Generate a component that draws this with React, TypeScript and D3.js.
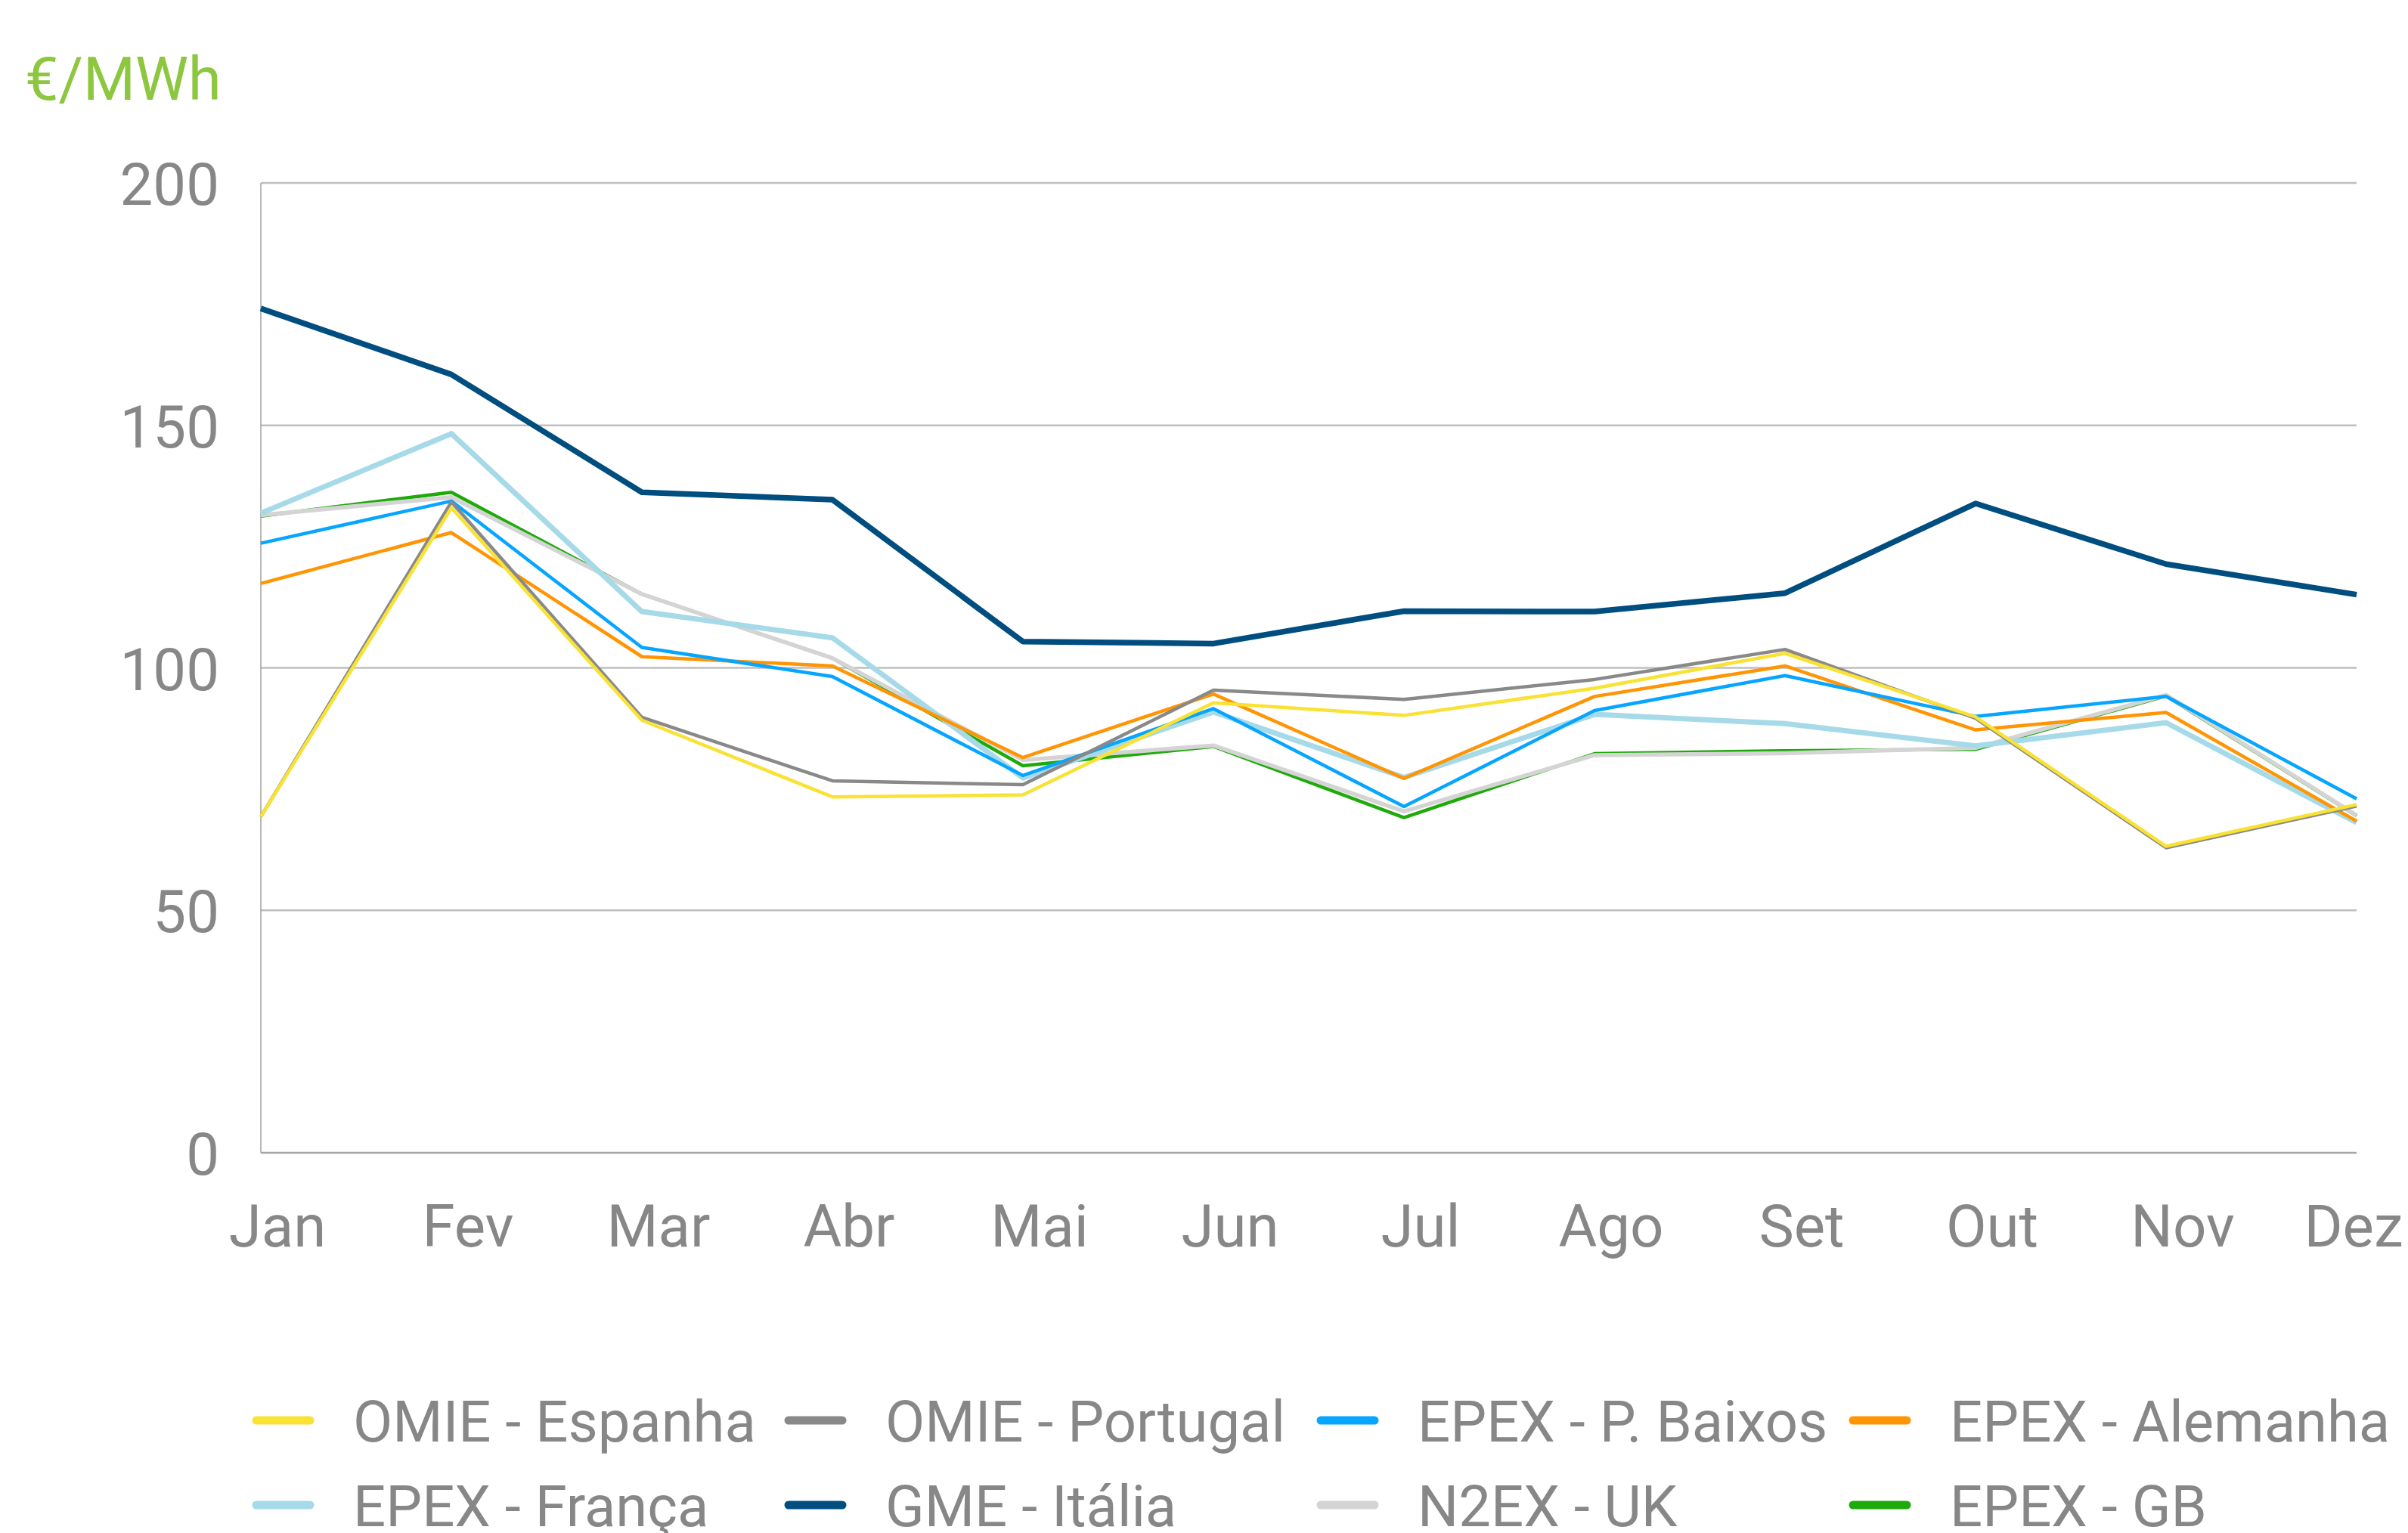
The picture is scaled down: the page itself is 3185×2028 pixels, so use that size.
import React from "react";
import * as d3 from "d3";

const months = ["Jan", "Fev", "Mar", "Abr", "Mai", "Jun", "Jul", "Ago", "Set", "Out", "Nov", "Dez"];

const omieEspanha = [69.3, 133.0, 89.2, 73.4, 73.8, 92.8, 90.2, 95.8, 103.0, 89.9, 63.2, 71.8];
const omiePortugal = [69.3, 134.2, 89.8, 76.7, 75.9, 95.4, 93.5, 97.6, 103.8, 89.6, 62.9, 71.5];
const epexBaixos = [125.7, 134.4, 104.2, 98.2, 77.8, 91.6, 71.4, 91.2, 98.4, 90.0, 94.1, 73.0];
const epexAlemanha = [117.4, 127.9, 102.3, 100.4, 81.5, 94.6, 77.2, 94.1, 100.4, 87.2, 90.8, 68.4];
const epexFranca = [131.9, 148.3, 111.6, 106.2, 77.3, 90.9, 77.4, 90.4, 88.5, 83.9, 88.7, 68.1];
const gmeItalia = [174.1, 160.5, 136.2, 134.7, 105.4, 105.0, 111.7, 111.6, 115.4, 133.9, 121.4, 115.1];
const n2exUk = [131.5, 135.2, 115.2, 102.0, 81.0, 84.0, 70.4, 82.0, 82.4, 83.5, 94.4, 69.6];
const epexGb = [131.3, 136.2, 115.2, 102.0, 79.8, 83.8, 69.1, 82.3, 82.9, 83.2, 94.2, 69.5];

const yTicks = [0, 50, 100, 150, 200];

// legend order (rows of four)
const series = [
  { name: "OMIE - Espanha", values: omieEspanha, color: "#F9E234", width: 4.5 },
  { name: "OMIE - Portugal", values: omiePortugal, color: "#898989", width: 4.5 },
  { name: "EPEX - P. Baixos", values: epexBaixos, color: "#06A5FF", width: 4.5 },
  { name: "EPEX - Alemanha", values: epexAlemanha, color: "#FF9505", width: 4.5 },
  { name: "EPEX - França", values: epexFranca, color: "#A6DAE8", width: 7 },
  { name: "GME - Itália", values: gmeItalia, color: "#004E80", width: 7.5 },
  { name: "N2EX - UK", values: n2exUk, color: "#D4D4D4", width: 5.5 },
  { name: "EPEX - GB", values: epexGb, color: "#1FAA0B", width: 4.5 },
];

const W = 3185;
const H = 2028;
const left = 345;
const right = 3117;
const top = 242;
const bottom = 1525;
const textColor = "#878787";
const font = "Roboto, 'Open Sans', sans-serif";

export default function App() {
  const x = d3.scalePoint<string>().domain(months).range([left, right]);
  const y = d3.scaleLinear().domain([0, 200]).range([bottom, top]);

  const line = d3
    .line<number>()
    .x((_, i) => x(months[i]) as number)
    .y((d) => y(d));

  // later series drawn first, first series ends up on top
  const drawOrder = [...series].reverse();

  return (
    <svg width={W} height={H} style={{ position: "absolute", left: 0, top: 0, background: "#fff" }}>
      <text x={33} y={132} fontFamily={font} fontSize={79} fill="#8DC63F">
        €/MWh
      </text>

      {yTicks.filter((t) => t > 0).map((t) => (
        <line key={t} x1={left} x2={right} y1={y(t)} y2={y(t)} stroke="#BFBFBF" strokeWidth={2.5} />
      ))}
      <line x1={left} x2={left} y1={top} y2={bottom} stroke="#A0A0A0" strokeWidth={1.5} />
      <line x1={left} x2={right} y1={bottom} y2={bottom} stroke="#A6A6A6" strokeWidth={2.5} />

      {yTicks.map((t) => (
        <text key={t} x={290} y={y(t) + 29} textAnchor="end" fontFamily={font} fontSize={78} fill={textColor}>
          {t}
        </text>
      ))}

      {months.map((m) => (
        <text
          key={m}
          x={Math.min((x(m) as number) + 22, 3113)}
          y={1649}
          textAnchor="middle"
          fontFamily={font}
          fontSize={78}
          fill={textColor}
        >
          {m}
        </text>
      ))}

      {drawOrder.map((s) => (
        <path
          key={s.name}
          d={line(s.values) || ""}
          fill="none"
          stroke={s.color}
          strokeWidth={s.width}
          strokeLinejoin="round"
        />
      ))}

      {series.map((s, i) => {
        const col = i % 4;
        const row = Math.floor(i / 4);
        const sx = 334 + col * 704;
        const sy = 1879 + row * 112;
        return (
          <g key={s.name}>
            <line x1={sx + 5} x2={sx + 76} y1={sy} y2={sy} stroke={s.color} strokeWidth={11} strokeLinecap="round" />
            <text x={sx + 133} y={sy + 28} fontFamily={font} fontSize={76} fill={textColor}>
              {s.name}
            </text>
          </g>
        );
      })}
    </svg>
  );
}
